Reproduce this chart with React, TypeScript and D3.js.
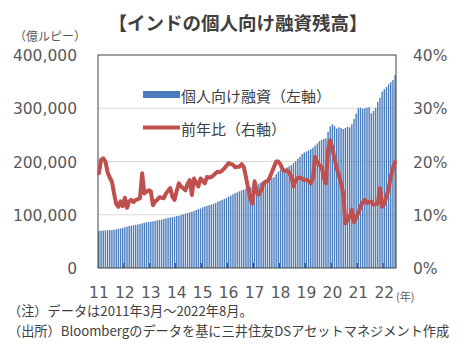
import React, { useEffect, useRef } from "react";
import * as d3 from "d3";

// monthly, 2011/03 .. 2022/08 (138 months)
const loans = [
  69.5, 70.0, 70.2, 70.5, 70.8, 71.0, 71.5, 72.0, 72.6, 73.5, 74.3, 75.2,
  76.5, 77.5, 79.0, 79.5, 80.3, 81.0, 82.0, 82.5, 84.0, 85.0, 86.0, 86.3,
  87.0, 87.6, 88.5, 89.5, 90.5, 91.0, 92.0, 93.0, 94.0, 95.0, 95.5, 96.5,
  97.5, 98.0, 99.5, 101.0, 102.0, 103.5, 104.5, 105.5, 107.0, 109.0, 110.5, 112.0,
  114.0, 115.5, 116.5, 118.0, 119.0, 120.5, 122.0, 124.5, 126.0, 128.0, 129.5, 131.5,
  134.0, 136.0, 138.5, 140.5, 142.0, 144.0, 146.0, 147.0, 149.0, 150.0, 151.5, 152.5,
  154.0, 156.0, 158.5, 160.5, 163.0, 164.0, 165.5, 167.0, 169.0, 171.0, 176.0, 181.0,
  184.0, 185.5, 187.0, 189.0, 191.0, 193.0, 197.0, 201.0, 205.0, 209.0, 214.0, 217.0,
  219.0, 221.0, 223.0, 226.0, 230.0, 234.0, 238.0, 240.5, 242.0, 243.6, 256.0, 266.0,
  270.0, 267.0, 262.0, 264.0, 263.0, 261.0, 263.0, 265.0, 264.0, 270.0, 280.0, 290.0,
  300.0, 301.0, 299.0, 300.0, 301.0, 302.0, 290.5, 295.0, 301.0, 312.0, 320.0, 331.0,
  336.0, 340.0, 345.0, 349.0, 353.0, 362.0,
].map((v) => v * 1000);

// year-on-year growth, %
const yoy = [
  17.8, 20.3, 20.6, 20.0, 18.0, 17.0, 16.2, 14.0, 12.0, 11.5, 12.5, 11.6,
  13.2, 11.3, 12.5, 12.8, 12.4, 12.8, 12.9, 13.1, 17.8, 14.0, 14.3, 14.6,
  14.4, 11.8, 12.5, 12.8, 13.3, 13.2, 13.1, 14.0, 14.5, 15.0, 13.4, 12.8,
  14.5, 15.9, 15.3, 15.0, 14.6, 15.8, 16.5, 13.7, 16.8, 16.0, 15.3, 16.8,
  16.4, 15.9, 17.1, 17.0, 17.1, 17.4, 17.8, 18.1, 18.0, 18.3, 18.7, 19.2,
  19.7, 19.5, 19.4, 18.9, 19.0, 19.0, 19.5, 19.0, 17.1, 15.0, 13.0, 12.1,
  16.3, 14.2, 13.8, 14.5, 15.8, 16.2, 16.3, 17.0, 18.0, 19.0, 20.0, 20.0,
  19.4, 18.5, 18.2, 18.3, 17.9, 17.2, 15.3, 16.5, 16.9, 17.0, 16.8, 16.5,
  16.6, 16.3, 15.9, 16.8, 20.9, 19.8, 19.3, 19.0, 17.0, 15.9, 22.2, 24.0,
  22.5, 20.5, 18.7, 17.5, 15.9, 14.0, 8.4, 9.0, 9.6, 10.9, 8.6, 9.5,
  10.3, 11.5, 12.3, 12.8, 12.2, 12.4, 12.5, 11.9, 12.0, 12.1, 15.0, 11.5,
  12.0, 13.5, 14.8, 17.1, 18.8, 19.9,
];

const yearLabels = ["11", "12", "13", "14", "15", "16", "17", "18", "19", "20", "21", "22"];
const leftTicks = [0, 100000, 200000, 300000, 400000];
const rightTicks = [0, 10, 20, 30, 40];

function App() {
  const svgRef = useRef(null);
  const width = 464;
  const height = 353;

  useEffect(() => {
    const svg = d3.select(svgRef.current);
    svg.selectAll("*").remove();

    const plot = { left: 98, right: 396, top: 55, bottom: 268 };
    const numFont = "'DejaVu Sans', 'Noto Sans CJK JP', sans-serif";
    const jpFont = "'Noto Sans CJK JP', sans-serif";
    const textColor = "#404040";

    svg.append("rect").attr("width", width).attr("height", height).attr("fill", "white");

    const x = d3
      .scaleBand()
      .domain(d3.range(loans.length))
      .range([plot.left, plot.right])
      .paddingInner(0.35)
      .paddingOuter(0.1);
    const yL = d3.scaleLinear().domain([0, 400000]).range([plot.bottom, plot.top]);
    const yR = d3.scaleLinear().domain([0, 40]).range([plot.bottom, plot.top]);

    // gridlines
    svg
      .selectAll(".grid")
      .data(leftTicks.slice(1, 4))
      .enter()
      .append("line")
      .attr("x1", plot.left)
      .attr("x2", plot.right)
      .attr("y1", (d) => yL(d))
      .attr("y2", (d) => yL(d))
      .attr("stroke", "#d9d9d9")
      .attr("stroke-width", 1);

    // bars
    svg
      .selectAll(".bar")
      .data(loans)
      .enter()
      .append("rect")
      .attr("x", (d, i) => x(i))
      .attr("width", x.bandwidth())
      .attr("y", (d) => yL(d))
      .attr("height", (d) => plot.bottom - yL(d))
      .attr("fill", "#4a7cbc");

    // frame
    svg
      .append("rect")
      .attr("x", plot.left)
      .attr("y", plot.top)
      .attr("width", plot.right - plot.left)
      .attr("height", plot.bottom - plot.top)
      .attr("fill", "none")
      .attr("stroke", "#404040")
      .attr("stroke-width", 1);

    // year ticks
    const step = x.step();
    svg
      .selectAll(".tick")
      .data(d3.range(1, 12))
      .enter()
      .append("line")
      .attr("x1", (k) => x(k * 12) - (step - x.bandwidth()) / 2)
      .attr("x2", (k) => x(k * 12) - (step - x.bandwidth()) / 2)
      .attr("y1", plot.bottom)
      .attr("y2", plot.bottom - 5)
      .attr("stroke", "#404040")
      .attr("stroke-width", 1);

    // line
    const line = d3
      .line()
      .x((d, i) => x(i) + x.bandwidth() / 2)
      .y((d) => yR(d));
    svg
      .append("path")
      .datum(yoy)
      .attr("d", line)
      .attr("fill", "none")
      .attr("stroke", "#c0504d")
      .attr("stroke-width", 4)
      .attr("stroke-linejoin", "round")
      .attr("stroke-linecap", "round");

    // left axis labels
    svg
      .selectAll(".lt")
      .data(leftTicks)
      .enter()
      .append("text")
      .attr("x", 77)
      .attr("y", (d) => yL(d) + 1)
      .attr("text-anchor", "end")
      .attr("dominant-baseline", "central")
      .style("font-family", numFont)
      .style("font-size", "15.5px")
      .style("fill", "#595959")
      .text((d) => d3.format(",")(d));

    // right axis labels
    svg
      .selectAll(".rt")
      .data(rightTicks)
      .enter()
      .append("text")
      .attr("x", 413)
      .attr("y", (d) => yR(d) + 1)
      .attr("text-anchor", "start")
      .attr("dominant-baseline", "central")
      .style("font-family", numFont)
      .style("font-size", "15.5px")
      .style("fill", "#595959")
      .text((d) => `${d}%`);

    // x labels
    svg
      .selectAll(".xl")
      .data(yearLabels)
      .enter()
      .append("text")
      .attr("x", (d, k) => x(k * 12) + x.bandwidth() / 2)
      .attr("y", 293)
      .attr("text-anchor", "middle")
      .attr("dominant-baseline", "central")
      .style("font-family", numFont)
      .style("font-size", "15.5px")
      .style("fill", "#595959")
      .text((d) => d);

    svg
      .append("text")
      .attr("x", 396)
      .attr("y", 296)
      .attr("dominant-baseline", "central")
      .style("font-family", jpFont)
      .style("font-size", "11px")
      .style("fill", "#595959")
      .text("(年)");

    // title & unit
    svg
      .append("text")
      .attr("x", 238)
      .attr("y", 22)
      .attr("text-anchor", "middle")
      .attr("dominant-baseline", "central")
      .style("font-family", jpFont)
      .style("font-size", "18.5px")
      .style("font-weight", "bold")
      .style("fill", textColor)
      .text("【インドの個人向け融資残高】");

    svg
      .append("text")
      .attr("x", 14)
      .attr("y", 35)
      .attr("dominant-baseline", "central")
      .style("font-family", jpFont)
      .style("font-size", "12px")
      .style("fill", "#595959")
      .text("（億ルピー）");

    // legend
    const legend = svg.append("g");
    legend
      .append("rect")
      .attr("x", 143)
      .attr("y", 91)
      .attr("width", 37)
      .attr("height", 7)
      .attr("fill", "#4a7cbc");
    legend
      .append("line")
      .attr("x1", 143)
      .attr("x2", 180)
      .attr("y1", 127.5)
      .attr("y2", 127.5)
      .attr("stroke", "#c0504d")
      .attr("stroke-width", 4);
    legend
      .selectAll("text")
      .data([
        { t: "個人向け融資（左軸）", y: 95 },
        { t: "前年比（右軸）", y: 128 },
      ])
      .enter()
      .append("text")
      .attr("x", 181)
      .attr("y", (d) => d.y)
      .attr("dominant-baseline", "central")
      .style("font-family", jpFont)
      .style("font-size", "15px")
      .style("fill", textColor)
      .text((d) => d.t);

    // notes
    svg
      .selectAll(".note")
      .data([
        { t: "（注）データは2011年3月～2022年8月。", y: 310.5 },
        { t: "（出所）Bloombergのデータを基に三井住友DSアセットマネジメント作成", y: 330 },
      ])
      .enter()
      .append("text")
      .attr("x", 8)
      .attr("y", (d) => d.y)
      .attr("dominant-baseline", "central")
      .style("font-family", jpFont)
      .style("font-size", "13.2px")
      .style("fill", textColor)
      .text((d) => d.t);
  }, []);

  return (
    <svg
      ref={svgRef}
      width={width}
      height={height}
      style={{ position: "absolute", left: 0, top: 0 }}
    ></svg>
  );
}

export default App;
